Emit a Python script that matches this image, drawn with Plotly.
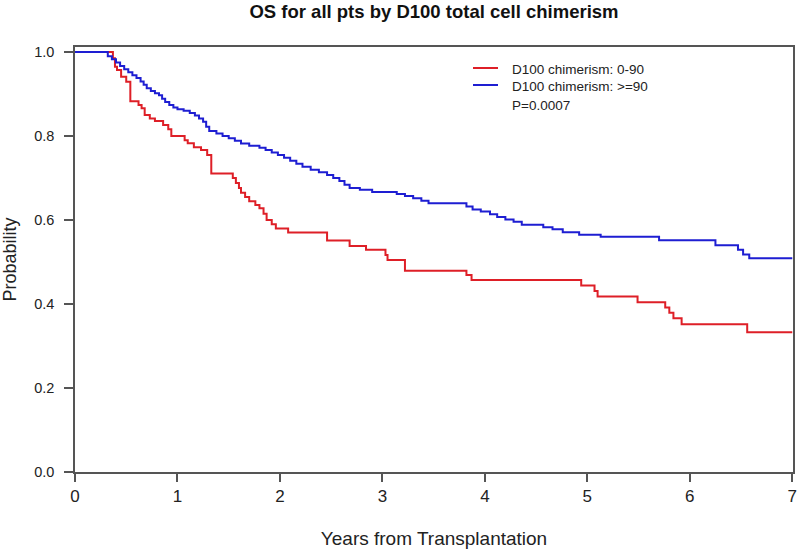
import plotly.graph_objects as go

# Kaplan-Meier step data
years_low = [0, 0.37, 0.39, 0.41, 0.45, 0.50, 0.54, 0.62, 0.65, 0.68, 0.73, 0.78, 0.86, 0.91, 0.94,
             1.07, 1.10, 1.16, 1.23, 1.29, 1.33, 1.54, 1.57, 1.60, 1.62, 1.66, 1.70, 1.76, 1.80,
             1.84, 1.87, 1.92, 1.96, 2.08, 2.46, 2.68, 2.84, 3.03, 3.05, 3.22, 3.82, 3.87, 4.94,
             5.07, 5.10, 5.49, 5.76, 5.80, 5.84, 5.92, 6.56, 7.0]
surv_low = [1.0, 0.985, 0.965, 0.957, 0.941, 0.929, 0.883, 0.874, 0.866, 0.850, 0.842, 0.836, 0.826,
            0.816, 0.800, 0.790, 0.783, 0.773, 0.767, 0.755, 0.711, 0.700, 0.688, 0.676, 0.665, 0.655,
            0.645, 0.636, 0.628, 0.615, 0.600, 0.590, 0.580, 0.570, 0.551, 0.538, 0.529, 0.517, 0.505,
            0.479, 0.469, 0.457, 0.444, 0.431, 0.418, 0.404, 0.392, 0.379, 0.366, 0.352, 0.333, 0.333]

years_high = [0, 0.30, 0.32, 0.36, 0.40, 0.44, 0.48, 0.52, 0.56, 0.60, 0.64, 0.67, 0.70, 0.74, 0.78,
              0.82, 0.85, 0.88, 0.92, 0.96, 1.00, 1.06, 1.12, 1.17, 1.21, 1.25, 1.28, 1.31, 1.38,
              1.44, 1.50, 1.56, 1.62, 1.70, 1.80, 1.86, 1.92, 1.98, 2.04, 2.10, 2.16, 2.22, 2.30,
              2.38, 2.46, 2.52, 2.58, 2.63, 2.68, 2.78, 2.90, 3.14, 3.22, 3.30, 3.38, 3.45, 3.82,
              3.88, 3.96, 4.05, 4.12, 4.20, 4.28, 4.36, 4.57, 4.66, 4.76, 4.92, 5.13, 5.70, 6.25,
              6.47, 6.52, 6.58, 7.0]
surv_high = [1.0, 1.0, 0.990, 0.983, 0.975, 0.967, 0.959, 0.952, 0.945, 0.938, 0.930, 0.922, 0.914,
             0.907, 0.902, 0.897, 0.889, 0.881, 0.874, 0.868, 0.864, 0.860, 0.855, 0.849, 0.842,
             0.834, 0.822, 0.812, 0.806, 0.800, 0.795, 0.789, 0.782, 0.777, 0.772, 0.767, 0.761,
             0.755, 0.748, 0.741, 0.734, 0.727, 0.720, 0.714, 0.707, 0.700, 0.693, 0.684, 0.676,
             0.672, 0.667, 0.662, 0.657, 0.652, 0.646, 0.640, 0.632, 0.625, 0.620, 0.614, 0.607,
             0.601, 0.596, 0.589, 0.583, 0.578, 0.571, 0.565, 0.560, 0.552, 0.540, 0.529, 0.518,
             0.509, 0.509]

x_ticks = [0, 1, 2, 3, 4, 5, 6, 7]
y_ticks = [0.0, 0.2, 0.4, 0.6, 0.8, 1.0]
y_tick_labels = ["0.0", "0.2", "0.4", "0.6", "0.8", "1.0"]

series_names = ["D100 chimerism: 0-90", "D100 chimerism: >=90"]
p_text = "P=0.0007"

RED = "#de1f27"
BLUE = "#1e1ed2"
AXIS = "#555555"
FONT = "Liberation Sans, Arial, sans-serif"

fig = go.Figure()
fig.add_trace(go.Scatter(x=years_low, y=surv_low, mode="lines", line=dict(color=RED, width=2, shape="hv"),
                         name=series_names[0], showlegend=False))
fig.add_trace(go.Scatter(x=years_high, y=surv_high, mode="lines", line=dict(color=BLUE, width=2, shape="hv"),
                         name=series_names[1], showlegend=False))

# legend drawn manually (R-style)
L, R_, T, B = 75, 793, 47, 472
W, H = 800, 555
pw, ph = R_ - L, B - T
def px(xp):
    return (xp - L) / pw
def py(yp):
    return (B - yp) / ph

for i, (name, col) in enumerate(zip(series_names, [RED, BLUE])):
    yy = 68 + 17 * i
    fig.add_shape(type="line", xref="paper", yref="paper", x0=px(473), x1=px(498), y0=py(yy), y1=py(yy),
                  line=dict(color=col, width=2))
    fig.add_annotation(xref="paper", yref="paper", x=px(510), y=py(yy + 1.5), text=name, showarrow=False,
                       xanchor="left", yanchor="middle", font=dict(family=FONT, size=13.5, color="#222"))
fig.add_annotation(xref="paper", yref="paper", x=px(510), y=py(105), text=p_text, showarrow=False,
                   xanchor="left", yanchor="middle", font=dict(family=FONT, size=13.5, color="#222"))

fig.update_layout(
    width=W, height=H,
    margin=dict(l=L, r=W - R_, t=T, b=H - B, autoexpand=False),
    paper_bgcolor="white", plot_bgcolor="white",
    title=dict(text="<b>OS for all pts by D100 total cell chimerism</b>", x=(L + R_) / 2 / W, xanchor="center",
               y=1 - 12 / H, yanchor="middle", font=dict(family=FONT, size=18.5, color="#111")),
    font=dict(family=FONT, color="#222"),
)
fig.update_xaxes(range=[0, 7.007], tickvals=x_ticks, ticktext=[str(v) for v in x_ticks], automargin=False,
                 showgrid=False, zeroline=False, showline=True, linecolor=AXIS, linewidth=1.5, mirror=True,
                 ticks="outside", ticklen=8, tickcolor=AXIS, tickwidth=1.5,
                 tickfont=dict(family=FONT, size=17, color="#222"),
                 title=dict(text="Years from Transplantation", font=dict(family=FONT, size=19, color="#222"),
                            standoff=27))
fig.update_yaxes(range=[0, 1.012], tickvals=y_ticks, ticktext=y_tick_labels, automargin=False,
                 showgrid=False, zeroline=False, showline=True, linecolor=AXIS, linewidth=1.5, mirror=True,
                 ticks="outside", ticklen=9, tickcolor=AXIS, tickwidth=1.5,
                 tickfont=dict(family=FONT, size=14.5, color="#222"), ticklabelstandoff=7,
                 title=dict(text="Probability", font=dict(family=FONT, size=18, color="#222"), standoff=20))

fig.write_html("out.html", config={"displayModeBar": False},
               post_script="document.body.style.margin='0';document.body.style.padding='0';")
